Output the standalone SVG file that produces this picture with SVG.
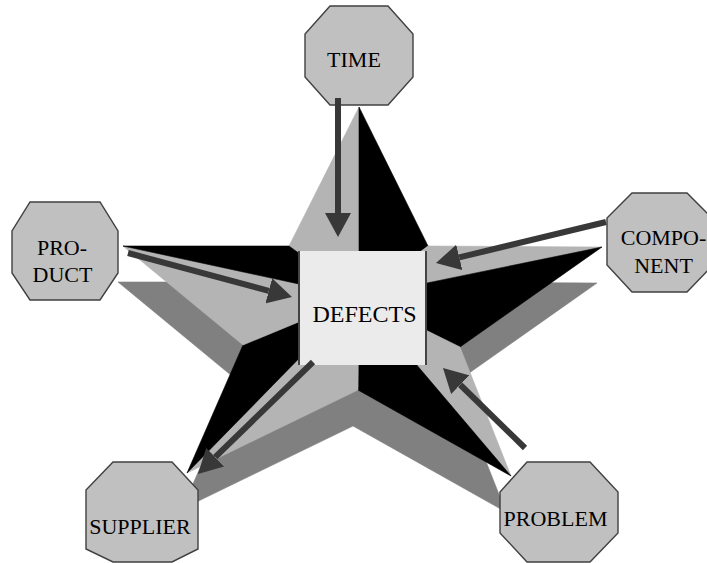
<svg xmlns="http://www.w3.org/2000/svg" width="707" height="563" viewBox="0 0 707 563">
  <style>
    .side { fill: #808080; stroke: #808080; stroke-width: 0.6; stroke-linejoin: round; }
    .lt { fill: #b4b4b4; stroke: #b4b4b4; stroke-width: 0.6; stroke-linejoin: round; }
    .bk { fill: #000000; stroke: #000000; stroke-width: 0.6; stroke-linejoin: round; }
    .oct { fill: #c0c0c0; stroke: #404040; stroke-width: 1.4; }
    .lbl { font-family: "Liberation Serif", "Times New Roman", serif; font-size: 22px; fill: #000; text-anchor: middle; }
    .big { font-size: 24px; }
    .conn { stroke: #383838; stroke-width: 6; fill: none; marker-end: url(#head); }
  </style>
  <defs>
    <marker id="head" markerUnits="userSpaceOnUse" markerWidth="24" markerHeight="26" refX="0" refY="13" orient="auto" viewBox="0 0 24 26">
      <path d="M0,0 L24,13 L0,26 z" fill="#383838"/>
    </marker>
  </defs>

  <g id="star">
    <!-- offset back face -->
    <polygon class="side" points="354,143 423,282 597,283 455,383 506,512 353,426 182,509 238,381 118,282 284,282"/>
    <!-- front face -->
    <polygon class="lt" points="289,246 359,107 359,297"/>
    <polygon class="bk" points="359,107 428,246 359,297"/>
    <polygon class="lt" points="428,246 602,247 359,297"/>
    <polygon class="bk" points="602,247 460,347 359,297"/>
    <polygon class="lt" points="460,347 511,476 359,297"/>
    <polygon class="bk" points="511,476 358,390 359,297"/>
    <polygon class="lt" points="358,390 187,473 359,297"/>
    <polygon class="bk" points="187,473 243,345 359,297"/>
    <polygon class="lt" points="243,345 123,246 359,297"/>
    <polygon class="bk" points="123,246 289,246 359,297"/>
  </g>

  <g id="defects">
    <rect x="298" y="251" width="129" height="114" fill="#ebebeb"/>
    <line x1="299" y1="251" x2="299" y2="365" stroke="#444" stroke-width="2"/>
    <line x1="426" y1="251" x2="426" y2="365" stroke="#444" stroke-width="2"/>
    <text class="lbl big" x="364.5" y="322">DEFECTS</text>
  </g>

  <g id="time">
    <polygon class="oct" points="330,6 388,6 413,34 413,77 388,105 330,105 305,77 305,34"/>
    <text class="lbl" x="354" y="67">TIME</text>
  </g>

  <g id="product">
    <polygon class="oct" points="30,202 100,202 118,231 118,273 100,300 30,300 12,273 12,231"/>
    <text class="lbl" x="62" y="255">PRO-</text>
    <text class="lbl" x="62.5" y="282">DUCT</text>
  </g>

  <g id="component">
    <polygon class="oct" points="632,193 687,193 712,218 712,266 687,292 632,292 607,265 607,218"/>
    <text class="lbl" x="663.5" y="245">COMPO-</text>
    <text class="lbl" x="663.5" y="273">NENT</text>
  </g>

  <g id="supplier">
    <polygon class="oct" points="113,462 172,462 198,490 198,549 172,562 113,562 86,549 86,490"/>
    <text class="lbl" x="140" y="534">SUPPLIER</text>
  </g>

  <g id="problem">
    <polygon class="oct" points="527,462 590,462 618,492 618,533 590,562 527,562 500,533 500,492"/>
    <text class="lbl" x="555.5" y="526">PROBLEM</text>
  </g>

  <g id="connectors">
    <line class="conn" x1="338" y1="98" x2="338" y2="213"/>
    <line class="conn" x1="128" y1="253" x2="268.8" y2="290.8"/>
    <line class="conn" x1="606" y1="222" x2="459.3" y2="257.4"/>
    <line class="conn" x1="313" y1="362" x2="215.2" y2="457.2"/>
    <line class="conn" x1="525" y1="448" x2="460.2" y2="384.75"/>
  </g>
</svg>
